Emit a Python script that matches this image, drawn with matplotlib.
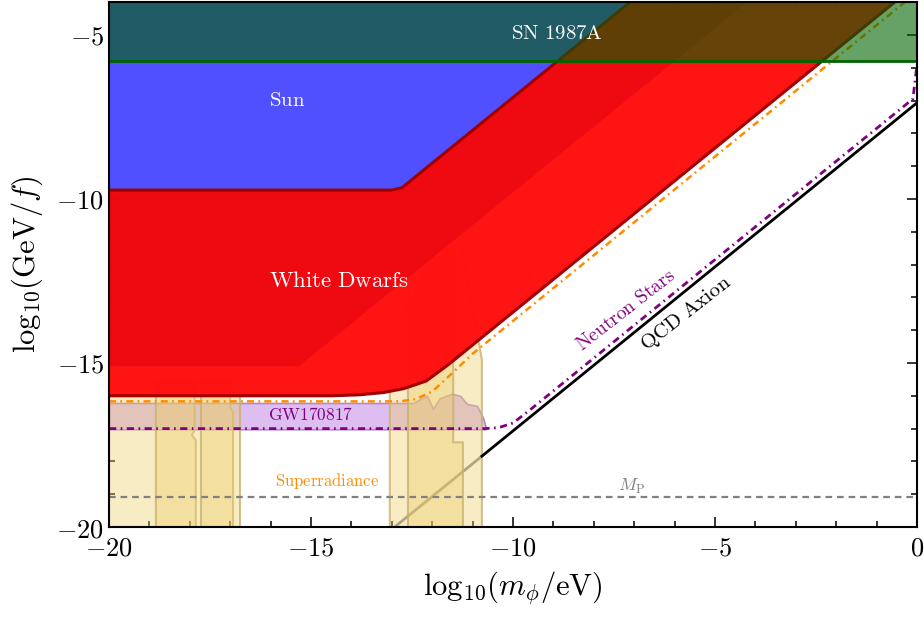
import matplotlib
matplotlib.use("Agg")
import matplotlib.pyplot as plt
from matplotlib.ticker import MultipleLocator, FuncFormatter

plt.rcParams['mathtext.fontset'] = 'cm'
plt.rcParams['font.family'] = ['DejaVu Serif']

# plot window: log10(m/eV) and log10(GeV/f)
XLIM = (-20, 0)
YLIM = (-20, -4)

# SN 1987A cooling: everything above this value is excluded
sn_lower = -5.8

# solar bound (lower edge of the excluded region)
sun_x = [-20, -13.0, -12.75, -7.1]
sun_y = [-9.73, -9.73, -9.66, -4.0]

# white dwarf bounds: main region and the weaker one inside it
wd_x = [-20, -14.5, -13.8, -13.2, -12.7, -12.15, -11.6, -0.55]
wd_y = [-16.0, -16.0, -15.97, -15.9, -15.78, -15.55, -15.05, -4.0]
wd2_x = [-20, -15.3, -4.2]
wd2_y = [-15.1, -15.1, -4.0]

# neutron star curve
ns_x = [-20, -10.7, -10.35, -10.0, -9.6, -0.1, 0.0]
ns_y = [-17.0, -17.0, -16.97, -16.83, -16.45, -6.95, -5.9]

# orange dash-dot curve
sr_x = [-20, -12.8, -12.4, -12.0, -11.6, -11.0, -0.3]
sr_y = [-16.17, -16.17, -16.1, -15.87, -15.42, -14.72, -4.0]

# GW170817 band
gw_x = [-20, -12.48, -12.13, -11.98, -11.81, -11.51, -11.31, -11.14, -10.89, -10.74, -10.67]
gw_top = [-16.22, -16.22, -16.0, -16.4, -16.07, -15.94, -16.0, -16.25, -16.31, -16.68, -16.98]
gw_bottom = -17.02

# superradiance exclusion patches (outline vertices)
sr_patches = [
    ([-20, -17.85, -17.85, -17.95, -17.88, -17.88, -20],
     [-20, -20, -17.35, -17.2, -17.05, -15.6, -15.6]),
    ([-18.84, -16.93, -16.93, -17.0, -17.0, -18.84],
     [-20, -20, -16.5, -16.35, -15.6, -15.6]),
    ([-17.72, -16.76, -16.76, -17.72],
     [-20, -20, -15.6, -15.6]),
    ([-13.05, -10.77, -10.77, -10.9, -11.3, -12.1, -13.05],
     [-20, -20, -14.9, -14.0, -11.3, -12.0, -14.5]),
    ([-12.6, -11.24, -11.24, -11.48, -11.48, -11.9, -12.6],
     [-20, -20, -17.42, -17.42, -11.4, -11.6, -12.4]),
]

# QCD axion line, split where it leaves the superradiance patches
qcd_x = [-12.93, -10.77, 0]
qcd_y = [-20, -17.84, -7.07]

# Planck mass
mp_y = -19.1

fig = plt.figure(figsize=(9.24, 6.19), dpi=100)
ax = fig.add_axes([0.118, 0.1486, 0.8744, 0.848])

ax.plot(qcd_x[:2], qcd_y[:2], color='black', lw=2, alpha=0.45, zorder=1)
ax.plot(qcd_x[1:], qcd_y[1:], color='black', lw=2, zorder=8)

ax.fill_between(gw_x, gw_top, gw_bottom, facecolor='#DEBEF0',
                edgecolor='#B088D8', lw=1.2, zorder=2)

for px, py in sr_patches:
    ax.fill(px, py, facecolor=(237/255, 206/255, 104/255, 0.39),
            edgecolor=(200/255, 178/255, 110/255, 0.8), lw=1.5, zorder=3)

ax.fill_between(wd_x, wd_y, YLIM[1], facecolor='#FF0F0F', alpha=0.98,
                lw=0, zorder=4)
ax.fill_between(wd2_x, wd2_y, YLIM[1], facecolor='#E1000F', alpha=0.5,
                lw=0, zorder=4.5)
ax.fill_between(sun_x, sun_y, YLIM[1], facecolor='#5050FF', lw=0, zorder=5)
ax.plot(wd_x, wd_y, color='#A00000', lw=2.2, solid_joinstyle='round', zorder=6)
ax.plot(sun_x, sun_y, color='#A00000', lw=2.2, solid_joinstyle='round', zorder=6)

ax.plot(sr_x, sr_y, color='#FF8C00', lw=1.8, dashes=(2.8, 1.7, 0.7, 1.7),
        zorder=6.5)

ax.fill_between(XLIM, sn_lower, YLIM[1], facecolor='#006400', alpha=0.6,
                lw=0, zorder=7)
ax.axhline(sn_lower, color='#006400', lw=2, zorder=7.5)

ax.plot(ns_x, ns_y, color='#800080', lw=2, dashes=(2.6, 1.6, 0.6, 1.6), zorder=8)
ax.axhline(mp_y, color='#808080', lw=1.6, dashes=(3, 2.2), zorder=8)

ax.text(-8.9, -4.95, r'$\mathrm{SN\ 1987A}$', color='white', fontsize=15,
        ha='center', va='center', zorder=10)
ax.text(-15.6, -7.0, r'$\mathrm{Sun}$', color='white', fontsize=15,
        ha='center', va='center', zorder=10)
ax.text(-14.3, -12.5, r'$\mathrm{White\ Dwarfs}$', color='white', fontsize=16.5,
        ha='center', va='center', zorder=10)
ax.text(-15.0, -16.6, r'$\mathrm{GW170817}$', color='#800080', fontsize=12.5,
        ha='center', va='center', zorder=10)
ax.text(-14.6, -18.6, r'$\mathrm{Superradiance}$', color='#FF8C00', fontsize=12,
        ha='center', va='center', zorder=10)
ax.text(-7.05, -18.75, r'$M_{\rm P}$', color='#808080', fontsize=13,
        ha='center', va='center', zorder=10)
ax.text(-7.2, -13.4, r'$\mathrm{Neutron\ Stars}$', color='#800080', fontsize=14,
        rotation=38, ha='center', va='center', zorder=10)
ax.text(-5.7, -13.5, r'$\mathrm{QCD\ Axion}$', color='black', fontsize=15,
        rotation=38, ha='center', va='center', zorder=10)

ax.set_xlim(*XLIM)
ax.set_ylim(*YLIM)
ax.xaxis.set_major_locator(MultipleLocator(5))
ax.xaxis.set_minor_locator(MultipleLocator(1))
ax.yaxis.set_major_locator(MultipleLocator(5))
ax.yaxis.set_minor_locator(MultipleLocator(1))
fmt = FuncFormatter(lambda v, p: r'$%d$' % v)
ax.xaxis.set_major_formatter(fmt)
ax.yaxis.set_major_formatter(fmt)
ax.tick_params(which='both', direction='in', top=True, right=True,
               labelsize=19, width=1.1, zorder=12)
ax.tick_params(which='major', length=7)
ax.tick_params(which='minor', length=4)
ax.tick_params(axis='x', pad=6)
for s in ax.spines.values():
    s.set_linewidth(1.5)
    s.set_zorder(12)

ax.set_xlabel(r'$\mathrm{log}_{10}(m_\phi/\mathrm{eV})$', fontsize=22, labelpad=6)
ax.set_ylabel(r'$\mathrm{log}_{10}(\mathrm{GeV}/f)$', fontsize=22, labelpad=8)

fig.savefig('out.png', dpi=100)
